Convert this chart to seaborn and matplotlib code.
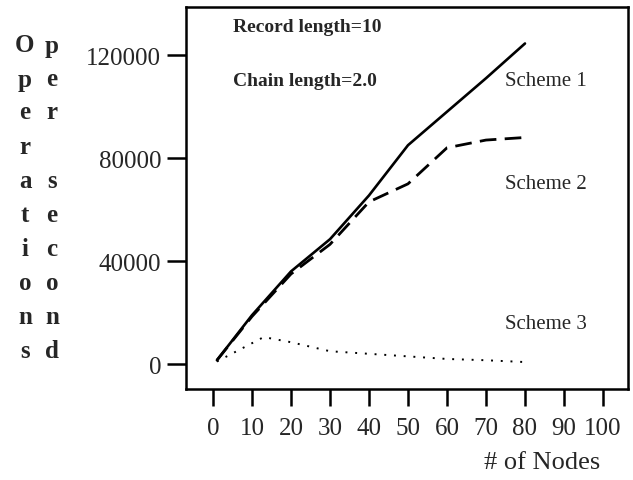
import pandas as pd
import numpy as np
import matplotlib
matplotlib.use('Agg')
import matplotlib.pyplot as plt
import seaborn as sns

# values
nodes_1 = [1, 10, 20, 30, 40, 50, 60, 70, 80]
scheme_1 = [1500, 19000, 36000, 48500, 65500, 85000, 98000, 111000, 124500]
nodes_2 = [1, 10, 20, 30, 40, 50, 60, 70, 80]
scheme_2 = [1500, 18500, 35000, 46500, 63000, 70000, 84000, 87000, 88000]
nodes_3 = [1, 13, 20, 30, 40, 50, 60, 70, 80]
scheme_3 = [1000, 10500, 8500, 5000, 4000, 3000, 2000, 1500, 800]

x_ticks = [0, 10, 20, 30, 40, 50, 60, 70, 80, 90, 100]
y_ticks = [0, 40000, 80000, 120000]

df = pd.concat([
    pd.DataFrame({'nodes': nodes_1, 'ops': scheme_1, 'scheme': 'Scheme 1'}),
    pd.DataFrame({'nodes': nodes_2, 'ops': scheme_2, 'scheme': 'Scheme 2'}),
    pd.DataFrame({'nodes': nodes_3, 'ops': scheme_3, 'scheme': 'Scheme 3'}),
])

sns.set_style('white')
plt.rcParams['font.family'] = ['Liberation Serif', 'DejaVu Serif']

fig = plt.figure(figsize=(6.33, 4.81), dpi=100)
ax = fig.add_axes([0.294, 0.189, 0.698, 0.794])

styles = {'Scheme 1': '-', 'Scheme 2': (0, (6, 3)), 'Scheme 3': (0, (1, 4))}
widths = {'Scheme 1': 1.9, 'Scheme 2': 2.0, 'Scheme 3': 1.4}
for name, ls in styles.items():
    sns.lineplot(data=df[df['scheme'] == name], x='nodes', y='ops', ax=ax,
                 color='black', linestyle=ls, linewidth=widths[name],
                 legend=False)

ax.set_xlim(-6.9, 106.4)
ax.set_ylim(-9700, 138600)
ax.set_xticks(x_ticks)
ax.set_yticks(y_ticks)
ax.set_xticklabels([str(t) for t in x_ticks])
ax.set_yticklabels([str(t) for t in y_ticks])
ax.tick_params(axis='both', direction='out', labelsize=18, color='black', width=1.8,
               bottom=True, left=True)
ax.tick_params(axis='x', length=12, pad=8)
ax.tick_params(axis='y', length=14, pad=4)
for s in ax.spines.values():
    s.set_color('black')
    s.set_linewidth(1.8)
ax.set_xlabel('')
ax.set_ylabel('')

fig.text(233 / 633, 1 - 27 / 481, 'Record length=10', fontsize=14, fontweight='bold',
         va='center', ha='left')
fig.text(233 / 633, 1 - 82 / 481, 'Chain length=2.0', fontsize=14, fontweight='bold',
         va='center', ha='left')
for label, yp in [('Scheme 1', 82), ('Scheme 2', 185), ('Scheme 3', 325)]:
    fig.text(505 / 633, 1 - yp / 481, label, fontsize=15, va='center', ha='left')

fig.text(542 / 633, 1 - 463 / 481, '# of Nodes', fontsize=19, va='center', ha='center')

col1 = list('Operations')
col2 = list('per second')
row_y = [46, 80, 113, 148, 182, 215, 250, 284, 318, 352]
for c1, c2, yp in zip(col1, col2, row_y):
    fig.text(25 / 633, 1 - yp / 481, c1, fontsize=18, fontweight='bold',
             va='center', ha='center')
    if c2 != ' ':
        fig.text(52 / 633, 1 - yp / 481, c2, fontsize=18, fontweight='bold',
                 va='center', ha='center')

fig.savefig('out.png', dpi=100)
